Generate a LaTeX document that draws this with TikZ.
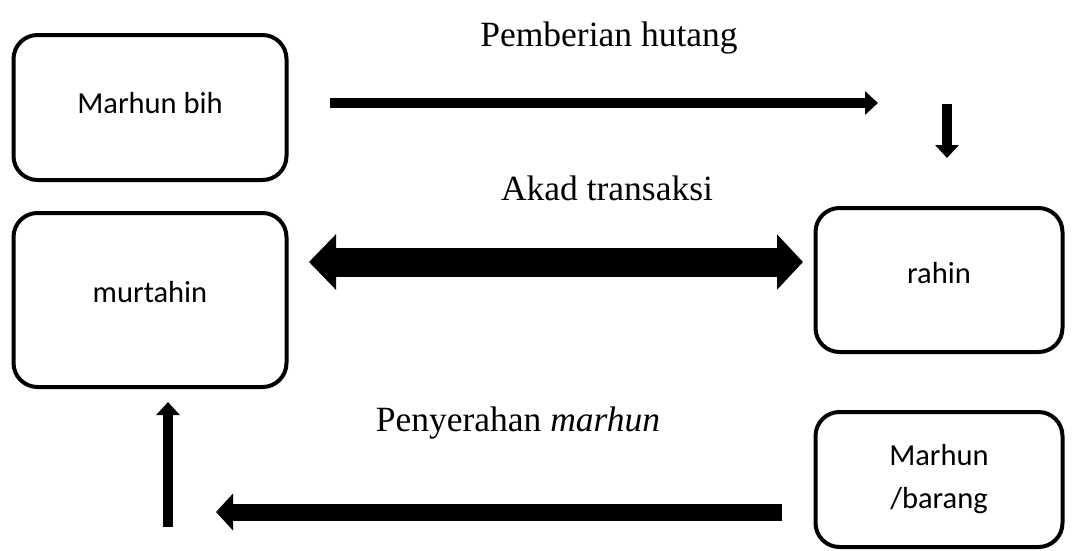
\documentclass[tikz,border=0pt]{standalone}
\usepackage{fontspec}
\setmainfont{Liberation Serif}
\newfontfamily\boxfont{Carlito}
\usetikzlibrary{arrows.meta}
\tikzset{
  box/.style={draw, line width=4pt, rounded corners=24pt, inner sep=0pt,
    font=\boxfont\fontsize{30.5}{43}\selectfont, align=center},
  lbl/.style={font=\fontsize{35.5}{40}\selectfont, inner sep=0pt},
  thinarrow/.style={line width=10pt, -{Triangle[width=23pt,length=13pt]}},
  midarrow/.style={line width=17pt, -{Triangle[width=36pt,length=17pt]}},
  fatarrow/.style={line width=29pt, {Triangle[width=54pt,length=27pt]}-{Triangle[width=54pt,length=26pt]}},
}
\begin{document}
\begin{tikzpicture}[x=1pt,y=-1pt]
\useasboundingbox (0,0) rectangle (1074,550);
\node[box, minimum width=273pt, minimum height=145pt] (mb) at (150,107.5) {\raisebox{10pt}{Marhun bih}};
\node[box, minimum width=273pt, minimum height=174pt] (mu) at (150,300) {\raisebox{16pt}{murtahin}};
\node[box, minimum width=247pt, minimum height=144pt] (ra) at (939,280) {\raisebox{15pt}{rahin}};
\node[box, minimum width=247pt, minimum height=135pt] (mg) at (939,479.5) {Marhun\\/barang};

\node[lbl] (t1) at (609,38) {Pemberian hutang};
\node[lbl] (t2) at (607,188) {Akad transaksi};
\node[lbl] (t3) at (518,423) {Penyerahan \textit{marhun}};

\coordinate (a1s) at (330,103);
\coordinate (a1e) at (878,103);
\coordinate (a2s) at (947,104);
\coordinate (a2e) at (947,158);
\coordinate (a3s) at (309,262);
\coordinate (a3e) at (803,262);
\coordinate (a4s) at (782,512);
\coordinate (a4e) at (216,512);
\coordinate (a5s) at (168,527);
\coordinate (a5e) at (168,402);

\draw[thinarrow] (a1s) -- (a1e);
\draw[thinarrow] (a2s) -- (a2e);
\draw[fatarrow] (a3s) -- (a3e);
\draw[midarrow] (a4s) -- (a4e);
\draw[thinarrow] (a5s) -- (a5e);
\end{tikzpicture}
\end{document}
